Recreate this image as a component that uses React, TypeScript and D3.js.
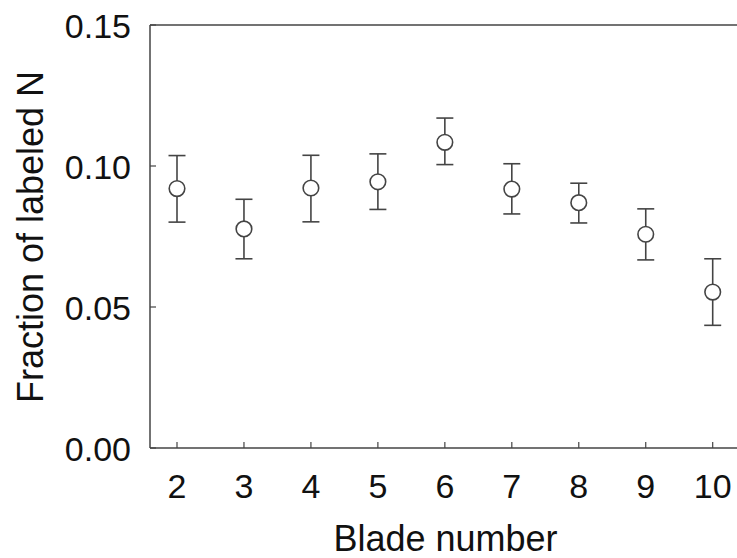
import * as d3 from 'd3';

// blade number on x, fraction of labeled N with error bars
const blades = [2, 3, 4, 5, 6, 7, 8, 9, 10];
const means = [0.092, 0.0777, 0.0922, 0.0944, 0.1084, 0.0918, 0.087, 0.0758, 0.0553];
const upper = [0.1037, 0.0882, 0.1038, 0.1043, 0.117, 0.1008, 0.0939, 0.0848, 0.0671];
const lower = [0.0801, 0.0671, 0.0802, 0.0846, 0.1005, 0.083, 0.0798, 0.0667, 0.0435];
const yTicks = [0, 0.05, 0.1, 0.15];

const width = 737;
const height = 558;
const left = 150;
const top = 25;
const bottom = 448;

const ink = '#444';
const font = 'Liberation Sans, Arial, sans-serif';

function App() {
    const xScale = d3.scaleLinear().domain([2, 10]).range([177, 712.7]);
    const yScale = d3.scaleLinear().domain([0, 0.15]).range([bottom, top]);
    const fmt = d3.format('.2f');

    return (
        <svg width={width} height={height} style={{ position: 'absolute', left: 0, top: 0 }}>
            <rect width={width} height={height} fill='white' />
            {/* spines: left, top, bottom */}
            <line x1={left} x2={left} y1={top} y2={bottom} stroke={ink} strokeWidth={1.5} />
            <line x1={left} x2={width} y1={top} y2={top} stroke={ink} strokeWidth={1.5} />
            <line x1={left} x2={width} y1={bottom} y2={bottom} stroke={ink} strokeWidth={1.5} />

            {yTicks.map(t => (
                <g key={t}>
                    <line x1={left} x2={left + 6} y1={yScale(t)} y2={yScale(t)} stroke={ink} strokeWidth={1.2} />
                    <text x={131} y={yScale(t)} dy='0.37em' textAnchor='end' fontSize={34} fontFamily={font} fill='#111'>
                        {fmt(t)}
                    </text>
                </g>
            ))}

            {blades.map(b => (
                <g key={b}>
                    <line x1={xScale(b)} x2={xScale(b)} y1={bottom} y2={bottom - 6} stroke={ink} strokeWidth={1.2} />
                    <text x={xScale(b)} y={498} textAnchor='middle' fontSize={34} fontFamily={font} fill='#111'>
                        {b}
                    </text>
                </g>
            ))}

            {/* error bars and markers */}
            {blades.map((b, i) => {
                const x = xScale(b);
                return (
                    <g key={'p' + b} stroke={ink} strokeWidth={1.6} fill='none'>
                        <line x1={x} x2={x} y1={yScale(upper[i])} y2={yScale(lower[i])} />
                        <line x1={x - 8.5} x2={x + 8.5} y1={yScale(upper[i])} y2={yScale(upper[i])} />
                        <line x1={x - 8.5} x2={x + 8.5} y1={yScale(lower[i])} y2={yScale(lower[i])} />
                        <circle cx={x} cy={yScale(means[i])} r={7.8} fill='white' />
                    </g>
                );
            })}

            <text x={445.5} y={551} textAnchor='middle' fontSize={36} fontFamily={font} fill='#111'>
                Blade number
            </text>
            <text transform={`translate(42.5, 237) rotate(-90)`} textAnchor='middle' fontSize={36} fontFamily={font} fill='#111'>
                Fraction of labeled N
            </text>
        </svg>
    );
}

export default App;
